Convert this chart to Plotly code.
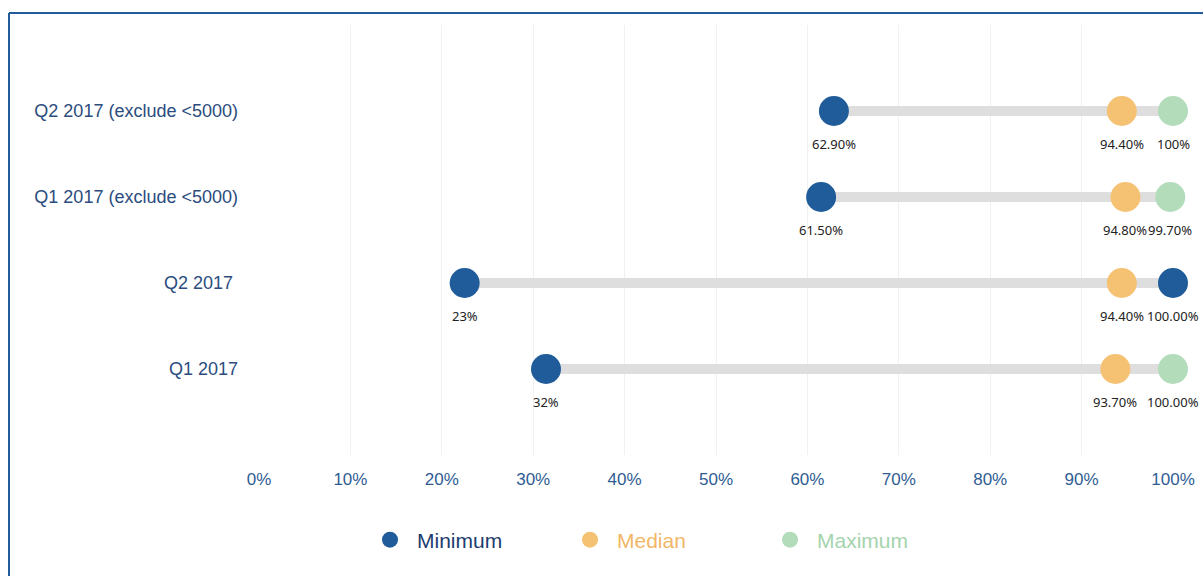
import plotly.graph_objects as go

# ---- data ----
categories = ["Q1 2017", "Q2 2017 ", "Q1 2017 (exclude <5000)", "Q2 2017 (exclude <5000)"]
minimum = [31.4, 22.5, 61.5, 62.9]
median = [93.7, 94.4, 94.8, 94.4]
maximum = [100.0, 100.0, 99.7, 100.0]
min_labels = ["32%", "23%", "61.50%", "62.90%"]
median_labels = ["93.70%", "94.40%", "94.80%", "94.40%"]
max_labels = ["100.00%", "100.00%", "99.70%", "100%"]
tick_vals = [0, 10, 20, 30, 40, 50, 60, 70, 80, 90, 100]
tick_text = ["0%", "10%", "20%", "30%", "40%", "50%", "60%", "70%", "80%", "90%", "100%"]

# ---- style ----
C_MIN = "#1f5c99"
C_MED = "#f5c173"
C_MAX = "#b3dcbb"
C_LINE = "#dedede"
max_colors = [C_MAX, C_MIN, C_MAX, C_MAX]
label_font = dict(family="Noto Sans", size=13, color="#222222")

fig = go.Figure()

for i, cat in enumerate(categories):
    fig.add_trace(go.Scatter(
        x=[minimum[i], maximum[i]], y=[cat, cat], mode="lines",
        line=dict(color=C_LINE, width=10), showlegend=False, hoverinfo="skip",
        cliponaxis=False))

def dots(name, xs, color, legend_color):
    return go.Scatter(
        x=xs, y=categories, mode="markers",
        marker=dict(size=30, color=color),
        name=f"<span style='color:{legend_color}'>{name}</span>",
        cliponaxis=False)

fig.add_trace(dots("Minimum", minimum, C_MIN, "#1d3c6e"))
fig.add_trace(dots("Median", median, C_MED, "#f2b766"))
fig.add_trace(dots("Maximum", maximum, max_colors, "#a5d3ae"))

annotations = []
for xs, texts in ((minimum, min_labels), (median, median_labels), (maximum, max_labels)):
    for x, y, t in zip(xs, categories, texts):
        annotations.append(dict(x=x, y=y, xref="x", yref="y", text=t,
                                showarrow=False, yshift=-33, font=label_font))

W, H = 1203, 576
ml, mr, mt, mb = 259, 30, 25, 121
pw, ph = W - ml - mr, H - mt - mb

def px2x(px):
    return (px - ml) / pw

def py2y(py):
    return (H - mb - py) / ph

fig.update_layout(
    width=W, height=H,
    margin=dict(l=ml, r=mr, t=mt, b=mb, autoexpand=False),
    plot_bgcolor="white", paper_bgcolor="white",
    font=dict(family="Liberation Sans"),
    annotations=annotations,
    xaxis=dict(range=[0, 100], tickvals=tick_vals, ticktext=tick_text,
               showgrid=True, gridcolor="#f1f1f1", gridwidth=1, zeroline=False,
               showline=False, tickfont=dict(size=17, color="#2f5d93"),
               ticklabelstandoff=12, automargin=False),
    yaxis=dict(type="category", categoryorder="array", categoryarray=categories,
               range=[-1, 4], showgrid=False, zeroline=False, showline=False,
               tickfont=dict(size=18, color="#2b4c7e"), ticklabelstandoff=20,
               automargin=False),
    legend=dict(orientation="h", x=px2x(363), y=py2y(540), xanchor="left",
                yanchor="middle", entrywidth=141, font=dict(size=21),
                itemsizing="trace", itemwidth=44),
    shapes=[
        dict(type="line", xref="paper", yref="paper", x0=px2x(9), x1=px2x(9),
             y0=py2y(13), y1=py2y(580), line=dict(color="#1f5c99", width=2)),
        dict(type="line", xref="paper", yref="paper", x0=px2x(9), x1=px2x(1210),
             y0=py2y(13), y1=py2y(13), line=dict(color="#1f5c99", width=2)),
    ],
)

fig.write_html("out.html", config={"displayModeBar": False},
               post_script="document.body.style.margin='0';")
